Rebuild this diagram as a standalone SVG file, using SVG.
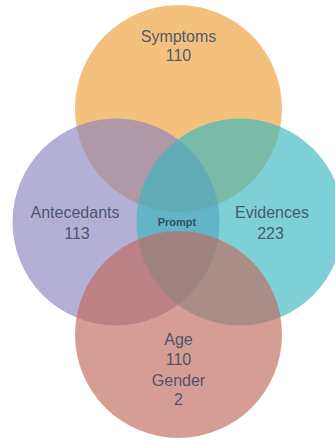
<svg xmlns="http://www.w3.org/2000/svg" width="335" height="440" viewBox="0 0 335 440">
  <style>
    .c { fill-opacity: 0.65; stroke: none; }
    .lbl { font-family: "Liberation Sans", Arial, sans-serif; font-size: 16px; fill: #3b4a63; fill-opacity: 0.9; text-anchor: middle; }
    .small { font-family: "Liberation Sans", Arial, sans-serif; font-size: 11px; font-weight: bold; fill: #253a4c; fill-opacity: 0.85; text-anchor: middle; }
  </style>
  <rect width="335" height="440" fill="#ffffff"/>
  <g id="symptoms">
    <circle class="c" cx="178.5" cy="108.5" r="103.5" fill="#ECA037"/>
  </g>
  <g id="antecedants">
    <circle class="c" cx="116" cy="222" r="103.5" fill="#8C84BD"/>
  </g>
  <g id="evidences">
    <circle class="c" cx="240" cy="222" r="103.5" fill="#39B7C0"/>
  </g>
  <g id="age-gender">
    <circle class="c" cx="178.5" cy="334.5" r="103.5" fill="#C0685A"/>
  </g>
  <g id="labels">
    <text class="lbl" x="178.5" y="42">Symptoms</text>
    <text class="lbl" x="178.5" y="61">110</text>
    <text class="lbl" x="75" y="218">Antecedants</text>
    <text class="lbl" x="77" y="239">113</text>
    <text class="lbl" x="272" y="218">Evidences</text>
    <text class="lbl" x="270.5" y="239">223</text>
    <text class="small" x="177" y="226">Prompt</text>
    <text class="lbl" x="178.5" y="345">Age</text>
    <text class="lbl" x="178.5" y="365">110</text>
    <text class="lbl" x="178.5" y="386">Gender</text>
    <text class="lbl" x="178.5" y="405">2</text>
  </g>
  <g id="connectors"/>
</svg>
